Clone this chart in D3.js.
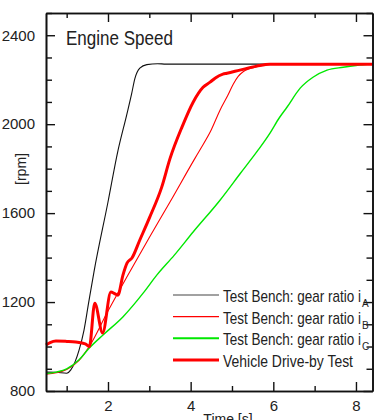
<!DOCTYPE html>
<html>
<head>
<meta charset="utf-8">
<script src="https://cdn.jsdelivr.net/npm/d3@7"></script>
<style>
  html, body { margin: 0; padding: 0; background: #fff; }
  svg { display: block; }
  text { font-family: "Liberation Sans Narrow", "Arial Narrow", "Liberation Sans", Arial, sans-serif; fill: #222; }
</style>
</head>
<body>
<div id="chart"></div>
<script>
// Engine speed run-up: test bench (three gear ratios) vs vehicle drive-by test
const timeA = [0.5, 0.75, 1.0, 1.1, 1.2, 1.3, 1.42, 1.53, 1.66, 2.0, 2.24, 2.45, 2.57, 2.65, 2.77, 2.94, 3.2, 3.4, 4, 5, 6, 7, 8, 8.4];
const rpmA  = [885, 884, 880, 895, 930, 984, 1074, 1195, 1335, 1650, 1880, 2040, 2135, 2205, 2252, 2268, 2272, 2270, 2270, 2270, 2270, 2270, 2270, 2270];

const timeB = [0.5, 0.75, 1.0, 1.3, 1.53, 2.0, 2.48, 3.0, 3.5, 4.1, 4.22, 4.5, 4.71, 4.9, 5.03, 5.15, 5.27, 5.6, 5.92, 6.5, 8.4];
const rpmB  = [875, 882, 897, 938, 995, 1160, 1321, 1490, 1650, 1845, 1883, 1975, 2063, 2130, 2180, 2215, 2236, 2258, 2270, 2270, 2270];

const timeC = [0.5, 0.75, 1.0, 1.3, 1.53, 1.88, 2.36, 2.85, 3.18, 3.6, 4.06, 4.71, 5.2, 5.63, 5.92, 6.15, 6.33, 6.65, 6.96, 7.3, 7.69, 8.0, 8.4];
const rpmC  = [878, 885, 899, 940, 990, 1052, 1133, 1240, 1321, 1410, 1515, 1658, 1778, 1883, 1960, 2030, 2076, 2162, 2211, 2243, 2256, 2264, 2270];

const timeV = [0.5, 0.6, 0.74, 1.0, 1.22, 1.45, 1.55, 1.68, 1.87, 2.07, 2.16, 2.24, 2.36, 2.46, 2.58, 2.77, 3.01, 3.3, 3.5, 3.79, 4.06, 4.3, 4.47, 4.59, 4.78, 4.88, 5.19, 5.6, 5.92, 8.4];
const rpmV  = [1007, 1018, 1025, 1023, 1020, 1012, 1000, 1195, 1061, 1245, 1238, 1231, 1320, 1375, 1398, 1479, 1582, 1717, 1845, 1987, 2099, 2166, 2189, 2207, 2225, 2229, 2243, 2261, 2270, 2270];

const legendLabels = ['Test Bench: gear ratio i', 'Test Bench: gear ratio i', 'Test Bench: gear ratio i', 'Vehicle Drive-by Test'];
const legendSubs = ['A', 'B', 'C', ''];
const yMajorTicks = [800, 1200, 1600, 2000, 2400];
const xMajorTicks = [2, 4, 6, 8];

const width = 374, height = 420;
const margin = { left: 46, top: 13, right: 1.5, bottom: 29 };

const svg = d3.select('#chart').append('svg')
    .attr('width', width)
    .attr('height', height);

const x = d3.scaleLinear().domain([0.5, 8.4]).range([margin.left, width - margin.right]);
const y = d3.scaleLinear().domain([800, 2500]).range([height - margin.bottom, margin.top]);

const series = [
    { t: timeA, v: rpmA, color: '#111', w: 1.1 },
    { t: timeB, v: rpmB, color: '#ff0000', w: 1.1 },
    { t: timeC, v: rpmC, color: '#00e800', w: 1.4 },
    { t: timeV, v: rpmV, color: '#ff0000', w: 3 }
];

const line = d3.line()
    .x(d => x(d[0]))
    .y(d => y(d[1]))
    .curve(d3.curveMonotoneX);

svg.append('g').selectAll('path')
    .data(series)
    .enter()
    .append('path')
    .attr('d', s => line(s.t.map((t, i) => [t, s.v[i]])))
    .attr('fill', 'none')
    .attr('stroke', s => s.color)
    .attr('stroke-width', s => s.w)
    .attr('stroke-linejoin', 'round');

// axes: ticks point inward on all four sides
const minorY = d3.range(800, 2501, 100).filter(v => !yMajorTicks.includes(v));
const minorX = d3.range(1, 9, 1).filter(v => !xMajorTicks.includes(v));

function styleAxis(g) {
    g.selectAll('.domain').attr('stroke', '#111').attr('stroke-width', 1.6);
    g.selectAll('.tick line').attr('stroke', '#111').attr('stroke-width', 1.4);
    g.selectAll('text').attr('font-size', 15).attr('fill', '#222')
        .attr('font-family', '"Liberation Sans Narrow", "Arial Narrow", "Liberation Sans", Arial, sans-serif');
}

svg.append('g')
    .attr('transform', `translate(${margin.left},0)`)
    .call(d3.axisLeft(y).tickValues(yMajorTicks).tickSize(-9).tickSizeOuter(0).tickPadding(11).tickFormat(d3.format('d')))
    .call(styleAxis);
svg.append('g')
    .attr('transform', `translate(${margin.left},0)`)
    .call(d3.axisLeft(y).tickValues(minorY).tickSize(-6).tickSizeOuter(0).tickFormat(''))
    .call(styleAxis);

svg.append('g')
    .attr('transform', `translate(${width - margin.right},0)`)
    .call(d3.axisRight(y).tickValues(yMajorTicks).tickSize(-9).tickSizeOuter(0).tickFormat(''))
    .call(styleAxis);
svg.append('g')
    .attr('transform', `translate(${width - margin.right},0)`)
    .call(d3.axisRight(y).tickValues(minorY).tickSize(-6).tickSizeOuter(0).tickFormat(''))
    .call(styleAxis);

svg.append('g')
    .attr('transform', `translate(0,${height - margin.bottom})`)
    .call(d3.axisBottom(x).tickValues(xMajorTicks).tickSize(-9).tickSizeOuter(0).tickPadding(9).tickFormat(d3.format('d')))
    .call(styleAxis);
svg.append('g')
    .attr('transform', `translate(0,${height - margin.bottom})`)
    .call(d3.axisBottom(x).tickValues(minorX).tickSize(-5).tickSizeOuter(0).tickFormat(''))
    .call(styleAxis);

svg.append('g')
    .attr('transform', `translate(0,${margin.top})`)
    .call(d3.axisTop(x).tickValues(xMajorTicks).tickSize(-9).tickSizeOuter(0).tickFormat(''))
    .call(styleAxis);
svg.append('g')
    .attr('transform', `translate(0,${margin.top})`)
    .call(d3.axisTop(x).tickValues(minorX).tickSize(-5).tickSizeOuter(0).tickFormat(''))
    .call(styleAxis);

// titles
svg.append('text')
    .attr('x', 66)
    .attr('y', 45)
    .attr('font-size', 21)
    .attr('textLength', 107)
    .attr('lengthAdjust', 'spacingAndGlyphs')
    .text('Engine Speed');

svg.append('text')
    .attr('transform', 'translate(26,169) rotate(-90)')
    .attr('text-anchor', 'middle')
    .attr('font-size', 14)
    .text('[rpm]');

svg.append('text')
    .attr('x', 228)
    .attr('y', 424)
    .attr('text-anchor', 'middle')
    .attr('font-size', 14)
    .text('Time [s]');

// legend
const legendY = d3.scaleLinear().domain([0, 3]).range([295, 360]);
const legend = svg.append('g');
series.forEach((s, i) => {
    const ly = legendY(i);
    legend.append('line')
        .attr('x1', 173).attr('x2', 219)
        .attr('y1', ly).attr('y2', ly)
        .attr('stroke', i === 0 ? '#444' : s.color)
        .attr('stroke-width', i === 2 ? 2 : s.w);
    legend.append('text')
        .attr('x', 223)
        .attr('y', ly + 7)
        .attr('font-size', 17)
        .attr('textLength', i === 3 ? 130 : 138)
        .attr('lengthAdjust', 'spacingAndGlyphs')
        .text(legendLabels[i]);
    if (legendSubs[i]) {
        legend.append('text')
            .attr('x', 362)
            .attr('y', ly + 12)
            .attr('font-size', 10)
            .text(legendSubs[i]);
    }
});
</script>
</body>
</html>
